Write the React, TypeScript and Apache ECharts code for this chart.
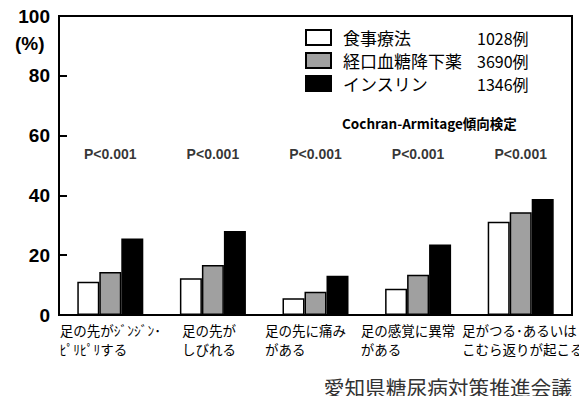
import React, { useEffect, useRef } from "react";
import * as echarts from "echarts";

const categories = [
  "足の先がｼﾞﾝｼﾞﾝ･\nﾋﾟﾘﾋﾟﾘする",
  "足の先が\nしびれる",
  "足の先に痛み\nがある",
  "足の感覚に異常\nがある",
  "足がつる･あるいは\nこむら返りが起こる",
];
const seriesNames = ["食事療法", "経口血糖降下薬", "インスリン"];
const caseCounts = ["1028例", "3690例", "1346例"];
const dietValues = [11.1, 12.3, 5.6, 8.8, 31.2];
const oralValues = [14.4, 16.7, 7.8, 13.5, 34.4];
const insulinValues = [25.6, 28.1, 13.1, 23.6, 38.8];
const pValues = ["P<0.001", "P<0.001", "P<0.001", "P<0.001", "P<0.001"];
const pLabelLevel = 54;
const yTicks = { min: 0, max: 100, interval: 20 };

const NUM_FONT = "'Liberation Sans', Arial, sans-serif";
const JP_FONT = "'Noto Sans CJK JP', sans-serif";

// horizontal nudge of each two-line category label (px, negative = left)
const labelShift = [0, -4, -10, -10, 2];

export default function App() {
  const ref = useRef<HTMLDivElement>(null);
  useEffect(() => {
    if (!ref.current) return;
    const chart = echarts.init(ref.current, undefined, { renderer: "svg" });
    const barBorder = { borderColor: "#000", borderWidth: 1.5 };
    const labelRich: Record<string, any> = {};
    labelShift.forEach((s, i) => {
      labelRich["l" + i] = {
        align: "left",
        fontSize: 13.5,
        lineHeight: 19,
        fontFamily: JP_FONT,
        color: "#000",
        padding: s < 0 ? [0, -2 * s, 0, 0] : [0, 0, 0, 2 * s],
      };
    });
    chart.setOption({
      animation: false,
      backgroundColor: "#fff",
      grid: {
        left: 59,
        right: 15,
        top: 16,
        bottom: 89,
        show: true,
        borderColor: "#000",
        borderWidth: 2,
        backgroundColor: "transparent",
      },
      legend: {
        orient: "vertical",
        left: 305,
        top: 29,
        padding: 0,
        itemWidth: 25,
        itemHeight: 15,
        itemGap: 6,
        icon: "rect",
        data: seriesNames,
        selectedMode: false,
        formatter: (name: string) => {
          const i = seriesNames.indexOf(name);
          return `{a|${name}}{b|${caseCounts[i]}}`;
        },
        textStyle: {
          rich: {
            a: { width: 134, padding: [0, 0, 0, 7], fontSize: 17, fontFamily: JP_FONT, color: "#000", lineHeight: 17 },
            b: { fontSize: 16, fontFamily: JP_FONT, color: "#000", lineHeight: 17 },
          },
        },
      },
      xAxis: {
        type: "category",
        data: categories,
        axisLine: { lineStyle: { color: "#000", width: 2 } },
        axisTick: { show: false },
        axisLabel: {
          interval: 0,
          margin: 5,
          formatter: (v: string, idx: number) =>
            v
              .split("\n")
              .map((l) => `{l${idx}|${l}}`)
              .join("\n"),
          rich: labelRich,
        },
      },
      yAxis: {
        type: "value",
        min: yTicks.min,
        max: yTicks.max,
        interval: yTicks.interval,
        splitLine: { show: false },
        axisLine: { show: true, lineStyle: { color: "#000", width: 2 } },
        axisTick: { show: true, inside: true, length: 8, lineStyle: { color: "#000", width: 2 } },
        axisLabel: {
          margin: 9,
          fontSize: 19,
          fontWeight: "bold",
          fontFamily: NUM_FONT,
          color: "#000",
        },
      },
      series: [
        {
          name: seriesNames[0],
          type: "bar",
          data: dietValues,
          barWidth: 22,
          barGap: "0%",
          itemStyle: { color: "#fff", ...barBorder },
        },
        {
          name: seriesNames[1],
          type: "bar",
          data: oralValues,
          barWidth: 22,
          barGap: "0%",
          itemStyle: { color: "#a0a0a0", ...barBorder },
        },
        {
          name: seriesNames[2],
          type: "bar",
          data: insulinValues,
          barWidth: 22,
          barGap: "0%",
          itemStyle: { color: "#000", ...barBorder },
        },
        {
          name: "trend",
          type: "scatter",
          symbolSize: 0,
          silent: true,
          data: pValues.map(() => pLabelLevel),
          label: {
            show: true,
            position: "inside",
            formatter: (p: any) => pValues[p.dataIndex],
            fontSize: 14,
            fontWeight: "bold",
            fontFamily: NUM_FONT,
            color: "#000",
          },
        },
      ],
      graphic: [
        {
          type: "text",
          left: 15,
          top: 34,
          style: {
            text: "(%)",
            fontSize: 19,
            fontWeight: "bold",
            fontFamily: NUM_FONT,
            fill: "#000",
          },
        },
        {
          type: "text",
          left: 342,
          top: 116,
          style: {
            text: "Cochran-Armitage傾向検定",
            fontSize: 13.5,
            fontWeight: "bold",
            fontFamily: JP_FONT,
            fill: "#000",
          },
        },
        {
          type: "text",
          right: 15,
          top: 377,
          style: {
            text: "愛知県糖尿病対策推進会議",
            fontSize: 20.7,
            fontFamily: JP_FONT,
            fill: "#333",
          },
        },
      ],
    });
    return () => chart.dispose();
  }, []);
  return <div ref={ref} style={{ width: 587, height: 404, margin: -8 }} />;
}
